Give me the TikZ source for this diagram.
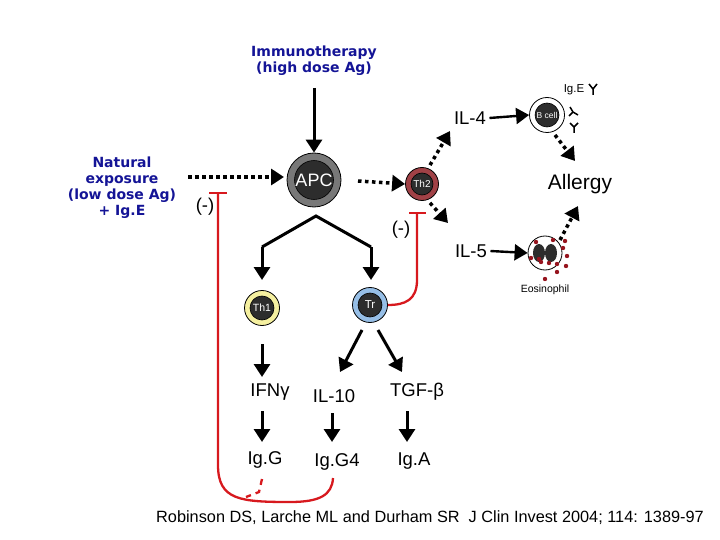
\documentclass[tikz,border=0pt]{standalone}
\usepackage{fontspec}
\setmainfont{Liberation Sans}
\newfontfamily\blufont{DejaVu Sans}
\usetikzlibrary{arrows.meta}
\definecolor{navy}{RGB}{20,20,150}
\definecolor{dark}{RGB}{45,45,45}
\definecolor{th2c}{RGB}{160,65,70}
\definecolor{th1c}{RGB}{245,240,160}
\definecolor{trc}{RGB}{150,190,230}
\definecolor{apcc}{RGB}{120,120,120}
\definecolor{redl}{RGB}{215,25,30}
\definecolor{eos}{RGB}{150,20,30}
\begin{document}
\begin{tikzpicture}[x=1pt,y=-1pt,
  arr/.style={line width=3pt,-{Triangle[length=13pt,width=16pt]}},
  dar/.style={line width=3.5pt,dash pattern=on 3.5pt off 3.5pt,-{Triangle[length=13pt,width=16pt]}},
  inh/.style={redl,line width=2.3pt},
  blu/.style={text=navy,font=\blufont\bfseries\fontsize{14}{16}\selectfont,align=center},
  lab/.style={font=\fontsize{18.5}{20}\selectfont},
  cell/.style={circle,draw=black,line width=0.8pt,inner sep=0pt},
  inner/.style={circle,fill=dark,draw=black,line width=0.6pt,text=white,inner sep=0pt}]
\useasboundingbox (0,0) rectangle (720,540);
\node[blu] (imm) at (314,61) {Immunotherapy\\(high dose Ag)};
\node[blu] (nat) at (122,188) {Natural\\exposure\\(low dose Ag)\\+ Ig.E};
% APC
\node[cell,fill=apcc,minimum size=54pt] (apc) at (314,180) {};
\node[inner,minimum size=38pt,font=\fontsize{18}{18}\selectfont] at (apc) {APC};
\coordinate (immtop) at (314,88);
\draw[arr] (immtop) -- (apc.north);
\coordinate (natend) at (188,177);
\draw[dar] (natend) -- (284,177);
% Th2
\node[cell,fill=th2c,minimum size=33pt] (th2) at (422,184) {};
\node[inner,minimum size=22pt,font=\fontsize{10}{10}\selectfont] at (th2) {Th2};
\draw[dar] (358,181) -- (th2.west);
% B cell
\node[cell,fill=white,minimum size=35pt] (bc) at (547,115) {};
\node[inner,minimum size=24pt,font=\fontsize{8.5}{8.5}\selectfont] at (bc) {B cell};
\node[lab] (il4) at (470,118) {IL-4};
\draw[arr,line width=2.4pt] (il4.east) -- (bc.west);
\draw[dar] (th2.north) ++(8,-2) -- (450,131);
\node[font=\fontsize{11.5}{12}\selectfont] (ige) at (574,90) {Ig.E};
\draw[line width=1.5pt] (593,95) -- (593,89) -- (589,84) (593,89) -- (597,84);
\draw[line width=1.5pt] (578,115) -- (573,112) -- (570,107) (573,112) -- (569,116);
\draw[line width=1.5pt] (574,133) -- (574,127) -- (570,123) (574,127) -- (578,123);
\node[font=\fontsize{21}{22}\selectfont] (all) at (580,184) {Allergy};
\draw[dar] (555,135) -- (575,161);
% Eosinophil
\node[cell,fill=white,minimum size=34pt] (eo) at (545,253) {};
\fill[dark] (539,253) ellipse (6pt and 9pt);
\fill[dark] (551,253) ellipse (6pt and 9pt);
\foreach \x/\y in {536/242,553/240,531/258,541/262,549/263,557/264,563/248,567/256,566/266,557/272,545/279,539/259,565/241}
  \fill[eos] (\x,\y) circle (2.2pt);
\node[font=\fontsize{10.5}{10}\selectfont] (eol) at (545,290) {Eosinophil};
\node[lab] (il5) at (471,251) {IL-5};
\draw[arr,line width=2.4pt] (il5.east) -- (eo.west);
\draw[dar] (th2.south) ++(8,2) -- (448,223);
\draw[dar] (560,240) -- (578,206);
% split
\coordinate (sp) at (316,216);
\coordinate (sl) at (262,247);
\coordinate (sr) at (371,247);
\node[cell,fill=th1c,minimum size=35pt] (th1) at (262,308) {};
\node[inner,minimum size=24pt,font=\fontsize{10.5}{10}\selectfont] at (th1) {Th1};
\node[cell,fill=trc,minimum size=35pt] (tr) at (370,305) {};
\node[inner,minimum size=24pt,font=\fontsize{11.5}{11}\selectfont] at (tr) {Tr};
\draw[line width=3pt] (sl) -- (sp) -- (sr);
\draw[arr] (sl) -- (262,280);
\draw[arr] (sr) -- (371,280);
% lower
\node[lab] (ifn) at (270,392) {IFNγ};
\node[lab] (il10) at (334,396) {IL-10};
\node[lab] (tgf) at (417,392) {TGF-β};
\node[lab] (igg) at (265,460) {Ig.G};
\node[lab] (igg4) at (337,462) {Ig.G4};
\node[lab] (iga) at (414,461) {Ig.A};
\draw[arr] (262,344) -- (262,377);
\draw[arr] (362,330) -- (340,372);
\draw[arr] (378,330) -- (402,372);
\draw[arr] (262,411) -- (262,442);
\draw[arr] (332,413) -- (332,442);
\draw[arr] (407,411) -- (407,442);
% inhibitions
\node[lab] (m1) at (205,207) {(-)};
\node[lab] (m2) at (401,230) {(-)};
\draw[inh] (209,193) -- (227,193);
\draw[inh] (218,193) -- (218,465) .. controls (218,500) and (240,502) .. (290,502)
  .. controls (320,502) and (332,495) .. (333,478);
\draw[inh,dash pattern=on 6pt off 5pt] (262,479) -- (259,492) -- (246,497);
\draw[inh] (409,213) -- (426,213);
\draw[inh] (417,213) -- (417,280) .. controls (417,300) and (405,305) .. (tr.east);
\node[font=\fontsize{16.3}{17}\selectfont] (cite) at (430,518) {Robinson DS, Larche ML and Durham SR\ \ J Clin Invest 2004; 114: 1389-97};
\end{tikzpicture}
\end{document}
